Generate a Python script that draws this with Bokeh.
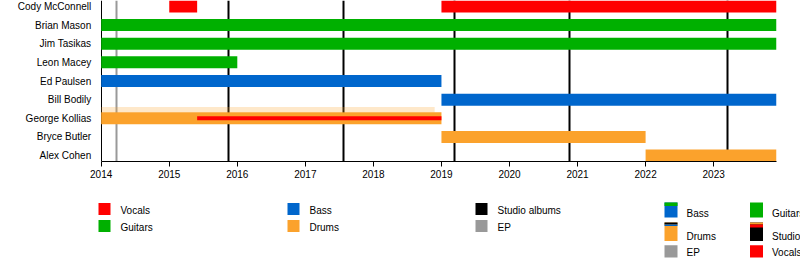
from bokeh.plotting import figure
from bokeh.models import Range1d, FixedTicker
from bokeh.layouts import column
from bokeh.core.properties import value
from bokeh.embed import file_html
from bokeh.resources import INLINE

FONT = "Liberation Sans"

# ---- data ----
members = ["Cody McConnell", "Brian Mason", "Jim Tasikas", "Leon Macey", "Ed Paulsen",
           "Bill Bodily", "George Kollias", "Bryce Butler", "Alex Cohen"]
# main stints: member, role, start, end
stint_member = ["Cody McConnell", "Cody McConnell", "Brian Mason", "Jim Tasikas", "Leon Macey",
                "Ed Paulsen", "Bill Bodily", "George Kollias", "Bryce Butler", "Alex Cohen"]
stint_role = ["Vocals", "Vocals", "Guitars", "Guitars", "Guitars",
              "Bass", "Bass", "Drums", "Drums", "Drums"]
stint_start = [2015.0, 2019.0, 2014.0, 2014.0, 2014.0, 2014.0, 2019.0, 2014.0, 2019.0, 2022.0]
stint_end = [2015.41, 2023.92, 2023.92, 2023.92, 2016.0, 2019.0, 2023.92, 2019.0, 2022.0, 2023.92]
# secondary (thin) stints
sec_member = ["George Kollias"]
sec_role = ["Vocals"]
sec_start = [2015.41]
sec_end = [2019.0]
studio_albums = [2015.87, 2017.56, 2019.19, 2020.88, 2023.2]
eps = [2014.22]
timeline_start = 2014.0
timeline_end = 2023.92
year_ticks = [2014, 2015, 2016, 2017, 2018, 2019, 2020, 2021, 2022, 2023]
year_labels = ["2014", "2015", "2016", "2017", "2018", "2019", "2020", "2021", "2022", "2023"]
legend_left = ["Vocals", "Guitars", "Bass", "Drums", "Studio albums", "EP"]
legend_right = ["Bass", "Drums", "EP", "Guitars", "Studio albums", "Vocals"]

colors = {"Vocals": "#FF0000", "Guitars": "#00B000", "Bass": "#0066CC",
          "Drums": "#FBA22C", "Studio albums": "#000000", "EP": "#999999"}

n = len(members)
ypos = {m: n - 1 - i for i, m in enumerate(members)}

# ---- main chart (frame spans the full width; names drawn left of the start date) ----
PX_PER_YEAR = 68.05
LEFT_PX = 100.7
x0 = timeline_start - LEFT_PX / PX_PER_YEAR
x1 = x0 + 800 / PX_PER_YEAR

p = figure(width=800, height=190, output_backend="svg", toolbar_location=None,
           x_range=Range1d(x0, x1), y_range=Range1d(-0.32, 8.32),
           min_border_left=0, min_border_right=0, min_border_top=0, min_border_bottom=29)
p.outline_line_color = None
p.grid.visible = False
p.yaxis.visible = False
p.background_fill_color = "white"

# left axis line at timeline start
p.vspan(x=[timeline_start], line_color="#000000", line_width=1)
p.vspan(x=eps, line_color=colors["EP"], line_width=2)
p.vspan(x=studio_albums, line_color=colors["Studio albums"], line_width=2)

H = 0.644
ys = [ypos[m] for m in stint_member]
p.hbar(y=ys, left=stint_start, right=stint_end, height=H,
       fill_color=[colors[r] for r in stint_role], line_color=None)

# soft halo above George's drum bar (as in reference)
g = ypos["George Kollias"]
p.quad(left=[2014.0], right=[2018.9], bottom=[g + H / 2], top=[g + H / 2 + 0.28],
       fill_color=colors["Drums"], fill_alpha=0.25, line_color=None)

p.hbar(y=[ypos[m] for m in sec_member], left=sec_start, right=sec_end, height=0.215,
       fill_color=[colors[r] for r in sec_role], line_color=None)

# member names
p.text(x=[timeline_start] * n, y=[ypos[m] for m in members], text=members,
       x_offset=-10, text_align="right", text_baseline="middle",
       text_font=value(FONT), text_font_size="10px", text_color="#000000")

# x axis
xa = p.xaxis[0]
xa.bounds = (timeline_start, timeline_end)
xa.ticker = FixedTicker(ticks=year_ticks)
xa.major_label_overrides = {t: l for t, l in zip(year_ticks, year_labels)}
xa.major_tick_out = 5
xa.major_tick_in = 0
xa.minor_tick_out = 0
xa.minor_tick_in = 0
xa.major_label_standoff = 3
xa.major_label_text_font = FONT
xa.major_label_text_font_size = "10px"
xa.major_label_text_color = "#000000"
xa.axis_line_color = "#000000"
xa.major_tick_line_color = "#000000"

# ---- legend panel ----
lg = figure(width=800, height=70, output_backend="svg", toolbar_location=None,
            x_range=Range1d(0, 800), y_range=Range1d(260, 190),
            min_border=0)
lg.outline_line_color = None
lg.grid.visible = False
lg.axis.visible = False

col_x = [98, 287, 475]
row_top = [202.5, 219.5]
sq_l, sq_r, sq_t, sq_b, sq_c = [], [], [], [], []
tx, ty, tt = [], [], []
for i, name in enumerate(legend_left):
    c, r = divmod(i, 2)
    sq_l.append(col_x[c]); sq_r.append(col_x[c] + 12)
    sq_t.append(row_top[r]); sq_b.append(row_top[r] + 12)
    sq_c.append(colors[name])
    tx.append(col_x[c] + 22); ty.append(row_top[r] + 7); tt.append(name)

# right (duplicated) legend with striped swatches
rcol_x = [664, 749.5]
rrow = [(202, 217), (222, 240.5), (244.7, 257)]
rtext_y = [213, 236, 252.3]
for i, name in enumerate(legend_right):
    c, r = divmod(i, 3)
    t, b = rrow[r]
    sq_l.append(rcol_x[c]); sq_r.append(rcol_x[c] + 13)
    sq_t.append(t); sq_b.append(b)
    sq_c.append(colors[name])
    tx.append(rcol_x[c] + 22); ty.append(rtext_y[r]); tt.append(name)

lg.quad(left=sq_l, right=sq_r, top=sq_t, bottom=sq_b, fill_color=sq_c, line_color=None)

# stripes on the right legend swatches
stripe_l = [664, 664, 664, 749.5, 749.5]
stripe_t = [202, 222, 224, 222, 224]
stripe_b = [205.5, 224, 225.5, 224, 227]
stripe_c = [colors["Guitars"], colors["Studio albums"], colors["Bass"], colors["Drums"], colors["Vocals"]]
lg.quad(left=stripe_l, right=[x + 13 for x in stripe_l], top=stripe_t, bottom=stripe_b,
        fill_color=stripe_c, line_color=None)

lg.text(x=tx, y=ty, text=tt, text_font=value(FONT), text_font_size="10px",
        text_baseline="middle", text_align="left", text_color="#000000")

layout = column(p, lg, spacing=0)
open("out.html", "w").write(file_html(layout, INLINE))
